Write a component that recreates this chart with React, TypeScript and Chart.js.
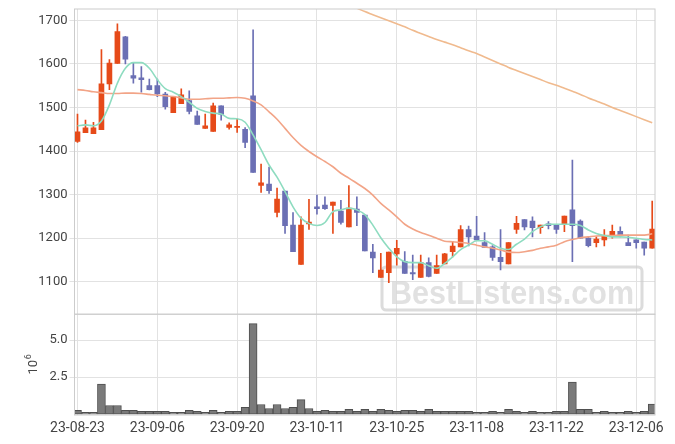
import React, { useEffect, useRef } from 'react';
import { Chart, registerables } from 'chart.js';
Chart.register(...registerables);

const dates = [
  '23-08-23','23-08-24','23-08-25','23-08-28','23-08-29','23-08-30','23-08-31','23-09-01','23-09-04','23-09-05',
  '23-09-06','23-09-07','23-09-08','23-09-11','23-09-12','23-09-13','23-09-14','23-09-15','23-09-18','23-09-19',
  '23-09-20','23-09-21','23-09-22','23-09-25','23-09-26','23-09-27','23-10-04','23-10-05','23-10-06','23-10-10',
  '23-10-11','23-10-12','23-10-13','23-10-16','23-10-17','23-10-18','23-10-19','23-10-20','23-10-23','23-10-24',
  '23-10-25','23-10-26','23-10-27','23-10-30','23-10-31','23-11-01','23-11-02','23-11-03','23-11-06','23-11-07',
  '23-11-08','23-11-09','23-11-10','23-11-13','23-11-14','23-11-15','23-11-16','23-11-17','23-11-20','23-11-21',
  '23-11-22','23-11-23','23-11-24','23-11-27','23-11-28','23-11-29','23-11-30','23-12-01','23-12-04','23-12-05',
  '23-12-06','23-12-07','23-12-08'
];

const openP = [
  1422,1442,1440,1449,1554,1601,1662,1573,1568,1550,
  1550,1531,1488,1509,1516,1481,1452,1445,1504,1454,
  1454,1450,1527,1321,1324,1259,1308,1230,1140,1233,
  1272,1276,1275,1262,1226,1267,1253,1168,1110,1121,
  1164,1147,1121,1110,1144,1119,1141,1169,1180,1220,
  1205,1190,1180,1156,1141,1220,1243,1239,1224,1233,
  1230,1233,1265,1239,1200,1190,1196,1207,1216,1190,
  1196,1191,1177
];
const closeP = [
  1444,1453,1453,1554,1602,1674,1611,1567,1564,1541,
  1531,1502,1523,1529,1491,1461,1458,1504,1484,1460,
  1457,1420,1351,1327,1309,1290,1229,1169,1230,1237,
  1268,1268,1283,1236,1269,1259,1171,1155,1127,1168,
  1177,1119,1118,1144,1112,1137,1164,1182,1220,1203,
  1196,1179,1156,1146,1190,1234,1226,1224,1230,1229,
  1220,1251,1229,1200,1183,1198,1206,1216,1206,1183,
  1190,1177,1221
];
const highP = [
  1485,1471,1466,1633,1610,1692,1663,1602,1594,1565,
  1565,1535,1525,1543,1538,1492,1485,1510,1504,1465,
  1474,1454,1678,1370,1363,1315,1308,1259,1249,1289,
  1299,1295,1283,1287,1321,1295,1253,1186,1165,1168,
  1195,1169,1161,1161,1155,1161,1165,1192,1229,1228,
  1250,1213,1183,1220,1190,1250,1243,1249,1230,1238,
  1230,1251,1379,1242,1203,1203,1220,1230,1226,1207,
  1196,1191,1285
];
const lowP = [
  1420,1442,1440,1449,1541,1601,1600,1556,1535,1540,
  1525,1496,1488,1509,1485,1461,1452,1445,1471,1450,
  1443,1408,1351,1305,1303,1249,1211,1169,1140,1220,
  1255,1266,1211,1232,1226,1229,1171,1121,1110,1098,
  1138,1119,1105,1110,1111,1119,1141,1157,1180,1182,
  1196,1179,1149,1127,1141,1211,1219,1203,1211,1221,
  1211,1215,1146,1200,1180,1180,1182,1200,1203,1183,
  1177,1161,1177
];
const volumeM = [
  0.26,0.13,0.13,2.04,0.59,0.59,0.26,0.26,0.2,0.2,
  0.2,0.2,0.13,0.13,0.26,0.2,0.13,0.26,0.13,0.2,
  0.2,0.46,6.12,0.66,0.39,0.66,0.39,0.46,0.99,0.39,
  0.2,0.26,0.2,0.2,0.33,0.2,0.33,0.2,0.33,0.26,
  0.2,0.26,0.26,0.2,0.33,0.2,0.2,0.2,0.2,0.2,
  0.13,0.13,0.2,0.13,0.33,0.2,0.13,0.2,0.13,0.13,
  0.2,0.2,2.17,0.33,0.33,0.13,0.2,0.13,0.13,0.2,
  0.13,0.2,0.68
];
const ma5 = [
  1458,1460,1458,1469,1506,1556,1590,1603,1603,1590,
  1564,1543,1535,1525,1512,1498,1491,1487,1485,1475,
  1474,1466,1437,1403,1368,1340,1307,1272,1246,1234,
  1229,1236,1261,1265,1269,1265,1254,1230,1201,1177,
  1157,1146,1144,1144,1137,1131,1142,1157,1174,1184,
  1194,1194,1186,1177,1174,1186,1198,1215,1226,1232,
  1232,1232,1232,1229,1219,1211,1206,1203,1203,1202,
  1200,1197,1196
];
const ma20 = [
  1541,1539,1536,1534,1532,1532,1533,1533,1532,1530,
  1528,1527,1525,1522,1519,1519,1520,1521,1521,1522,
  1523,1521,1515,1506,1490,1473,1452,1431,1413,1399,
  1387,1376,1364,1349,1338,1326,1314,1299,1280,1265,
  1249,1232,1221,1213,1207,1200,1193,1192,1190,1188,
  1184,1180,1177,1173,1168,1167,1169,1172,1177,1180,
  1184,1192,1197,1201,1203,1205,1206,1206,1207,1207,
  1207,1207,1210
];
const maLong: (number | null)[] = [
  null,null,null,null,null,null,null,null,null,null,
  null,null,null,null,null,null,null,null,null,null,
  null,null,null,null,null,null,null,null,null,null,
  null,null,null,1742,1735,1728,1720,1713,1706,1699,
  1692,1685,1677,1670,1663,1656,1650,1644,1637,1630,
  1624,1616,1608,1600,1592,1585,1578,1571,1564,1557,
  1551,1544,1537,1530,1522,1515,1508,1500,1493,1486,
  1479,1472,1465
];
const priceTicks = [1100, 1200, 1300, 1400, 1500, 1600, 1700];
const volumeTicks = [2.5, 5.0];
const dateTickIdx = [0, 10, 20, 30, 40, 50, 60, 70];
const volumeUnitBase = '10';
const volumeUnitExp = '6';

const UP = '#E64A19';
const DOWN = '#6B6FB4';
const FONT = 'Roboto';
const TXT = '#444444';

const noPad = (s: any) => { s.paddingTop = 0; s.paddingBottom = 0; s.paddingLeft = 0; s.paddingRight = 0; };

export default function App() {
  const ref = useRef<HTMLCanvasElement>(null);
  useEffect(() => {
    if (!ref.current) return;
    const idx = dates.map((_, i) => i);
    const colors = idx.map(i => (closeP[i] >= openP[i] ? UP : DOWN));
    const wick = idx.map(i => ({ x: i, y: [lowP[i], highP[i]] }));
    const body = idx.map(i => ({ x: i, y: [openP[i], closeP[i]] }));
    const vol = idx.map(i => ({ x: i, y: volumeM[i] }));
    const line = (arr: (number | null)[]) => arr.map((v, i) => ({ x: i, y: v }));

    const framePlugin = {
      id: 'frame',
      beforeDatasetsDraw(chart: any) {
        const { ctx, chartArea } = chart;
        const a = chartArea;
        ctx.save();
        const bx = a.left + 307.5, by = a.top + 258, bw = 260, bh = 43;
        ctx.strokeStyle = 'rgba(205,205,205,0.7)';
        ctx.lineWidth = 3;
        ctx.beginPath();
        ctx.roundRect(bx, by, bw, bh, 4);
        ctx.stroke();
        ctx.fillStyle = 'rgba(215,215,215,0.75)';
        ctx.font = 'bold 34px "Liberation Sans", Arial, sans-serif';
        ctx.textBaseline = 'alphabetic';
        ctx.textAlign = 'center';
        ctx.fillText('BestListens.com', bx + bw / 2, by + bh - 6, bw - 16);
        ctx.restore();
      },
      afterDraw(chart: any) {
        const { ctx, chartArea, scales } = chart;
        ctx.save();
        ctx.strokeStyle = '#cccccc';
        ctx.lineWidth = 1;
        const l = chartArea.left, r = chartArea.right;
        ctx.strokeRect(l, scales.y.top, r - l, scales.y.bottom - scales.y.top);
        ctx.strokeRect(l, scales.y2.top, r - l, scales.y2.bottom - scales.y2.top);
        const cy = (scales.y2.top + scales.y2.bottom) / 2;
        ctx.translate(scales.y2.left + 29, cy);
        ctx.rotate(-Math.PI / 2);
        ctx.fillStyle = TXT;
        ctx.textBaseline = 'alphabetic';
        ctx.textAlign = 'left';
        ctx.font = `13px ${FONT}`;
        const w = ctx.measureText(volumeUnitBase).width;
        ctx.font = `9px ${FONT}`;
        const w2 = ctx.measureText(volumeUnitExp).width;
        const start = -(w + w2) / 2;
        ctx.font = `13px ${FONT}`;
        ctx.fillText(volumeUnitBase, start, 0);
        ctx.font = `9px ${FONT}`;
        ctx.fillText(volumeUnitExp, start + w + 0.5, -6);
        ctx.restore();
      }
    };

    const chart = new Chart(ref.current, {
      type: 'bar',
      data: {
        datasets: [
          { type: 'line', data: line(ma5) as any, borderColor: '#8EDCC0', borderWidth: 1.6, pointRadius: 0, cubicInterpolationMode: 'monotone', yAxisID: 'y', order: 0 },
          { type: 'line', data: line(ma20) as any, borderColor: '#F2A487', borderWidth: 1.6, pointRadius: 0, cubicInterpolationMode: 'monotone', yAxisID: 'y', order: 0 },
          { type: 'line', data: line(maLong) as any, borderColor: '#F0BA8E', borderWidth: 1.6, pointRadius: 0, cubicInterpolationMode: 'monotone', yAxisID: 'y', order: 0 },
          { type: 'bar', data: body as any, backgroundColor: colors, barThickness: 5, grouped: false, yAxisID: 'y', order: 1, borderWidth: 0 },
          { type: 'bar', data: wick as any, backgroundColor: colors, barThickness: 1, grouped: false, yAxisID: 'y', order: 2, borderWidth: 0 },
          { type: 'bar', data: vol as any, backgroundColor: '#7a7a7a', borderColor: '#4f4f4f', borderWidth: 1, borderSkipped: false, barPercentage: 1, categoryPercentage: 1, grouped: false, yAxisID: 'y2', order: 3 },
        ] as any,
      },
      options: {
        animation: false,
        responsive: true,
        maintainAspectRatio: false,
        layout: { padding: { top: 1, right: 12, left: 0, bottom: 0 } },
        plugins: { legend: { display: false }, tooltip: { enabled: false } },
        scales: {
          x: {
            type: 'linear',
            min: -0.375,
            max: 72.35,
            offset: false,
            grid: { color: '#e2e2e2', drawTicks: false, offset: false },
            border: { display: false },
            afterBuildTicks: (s: any) => { s.ticks = dateTickIdx.map(v => ({ value: v })); },
            afterFit: (s: any) => { s.height = 21; noPad(s); },
            ticks: {
              autoSkip: false, maxRotation: 0, padding: 5,
              color: TXT, font: { family: FONT, size: 14 },
              callback: (v: any) => dates[v] ?? '',
            },
          },
          y: {
            type: 'linear',
            position: 'left',
            stack: 'panels',
            stackWeight: 305,
            weight: 1,
            min: 1025.5,
            max: 1726,
            grid: { color: '#e2e2e2', tickLength: 5 },
            border: { display: false },
            afterBuildTicks: (s: any) => { s.ticks = priceTicks.map(v => ({ value: v })); },
            afterFit: (s: any) => { s.width = 66.5; noPad(s); },
            ticks: { padding: 2, color: TXT, font: { family: FONT, size: 13 }, callback: (v: any) => String(v) },
          },
          y2: {
            type: 'linear',
            position: 'left',
            stack: 'panels',
            stackWeight: 100.7,
            weight: 0,
            min: -0.05,
            max: 6.75,
            grid: { color: '#e2e2e2', tickLength: 5 },
            border: { display: false },
            afterBuildTicks: (s: any) => { s.ticks = volumeTicks.map(v => ({ value: v })); },
            afterFit: (s: any) => { s.width = 66.5; noPad(s); },
            ticks: { padding: 2, color: TXT, font: { family: FONT, size: 13 }, callback: (v: any) => Number(v).toFixed(1) },
          },
        } as any,
      },
      plugins: [framePlugin],
    });
    return () => chart.destroy();
  }, []);
  return (
    <div style={{ width: 659, height: 428, position: 'relative' }}>
      <canvas ref={ref} />
    </div>
  );
}
